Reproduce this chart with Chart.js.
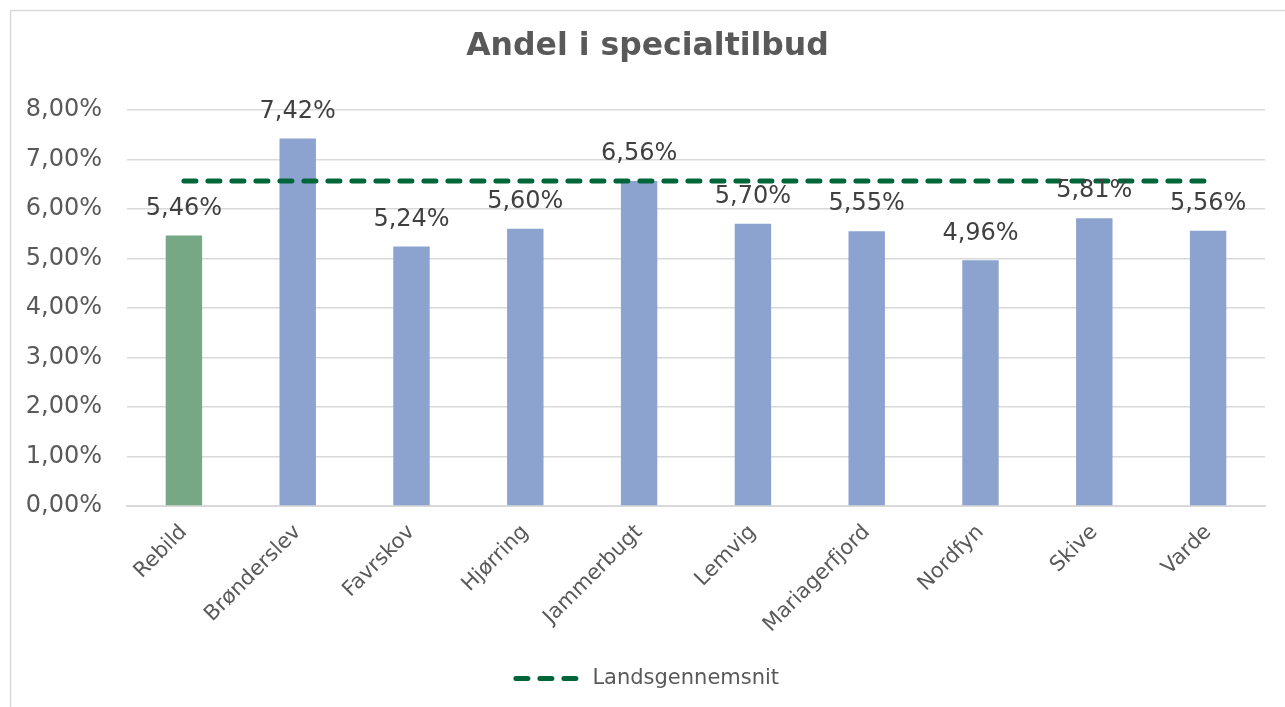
<!DOCTYPE html>
<html>
<head>
<meta charset="utf-8">
<title>Andel i specialtilbud</title>
<script src="https://cdn.jsdelivr.net/npm/chart.js@4/dist/chart.umd.min.js"></script>
<style>
    html, body { margin: 0; padding: 0; background: #fff; overflow: hidden; }
</style>
</head>
<body>
<canvas id="chart" width="1285" height="707"></canvas>
<script>
// Chart data
const municipalities = ['Rebild', 'Brønderslev', 'Favrskov', 'Hjørring', 'Jammerbugt',
    'Lemvig', 'Mariagerfjord', 'Nordfyn', 'Skive', 'Varde'];
const shareValues = [5.46, 7.42, 5.24, 5.60, 6.56, 5.70, 5.55, 4.96, 5.81, 5.56];
const nationalAverage = [6.56, 6.56, 6.56, 6.56, 6.56, 6.56, 6.56, 6.56, 6.56, 6.56];
const yTicks = [0, 1, 2, 3, 4, 5, 6, 7, 8];

const FONT = '"DejaVu Sans", Verdana, sans-serif';
const GREEN_BAR = '#76A886';
const BLUE_BAR = '#8BA3CE';
const AVG_LINE = '#00663A';
const AVG_DASH = [12, 12];

// Danish percent format, e.g. 5,46%
const pct = v => v.toFixed(2).replace('.', ',') + '%';

// Outer chart border (only top and left edges fall inside the window)
const frame = {
    id: 'frame',
    beforeDraw(chart) {
        const ctx = chart.ctx;
        ctx.save();
        ctx.strokeStyle = '#D9D9D9';
        ctx.lineWidth = 1.5;
        ctx.strokeRect(10.5, 10.5, 1300, 720);
        ctx.restore();
    }
};

// Value labels above the bars
const barLabels = {
    id: 'barLabels',
    afterDatasetsDraw(chart) {
        const ctx = chart.ctx;
        const meta = chart.getDatasetMeta(1);
        ctx.save();
        ctx.font = '24px ' + FONT;
        ctx.fillStyle = '#404040';
        ctx.textAlign = 'center';
        ctx.textBaseline = 'middle';
        meta.data.forEach((bar, i) => {
            ctx.fillText(pct(shareValues[i]), bar.x, bar.y - 27);
        });
        ctx.restore();
    }
};

new Chart(document.getElementById('chart'), {
    data: {
        labels: municipalities,
        datasets: [{
            type: 'line',
            label: 'Landsgennemsnit',
            data: nationalAverage,
            borderColor: AVG_LINE,
            backgroundColor: AVG_LINE,
            borderWidth: 5,
            borderDash: AVG_DASH,
            borderCapStyle: 'round',
            pointRadius: 0,
            fill: false,
            order: 0
        }, {
            type: 'bar',
            label: 'Andel',
            data: shareValues,
            backgroundColor: municipalities.map(m => m === 'Rebild' ? GREEN_BAR : BLUE_BAR),
            categoryPercentage: 1,
            barPercentage: 0.32,
            order: 1
        }]
    },
    options: {
        responsive: false,
        animation: false,
        layout: { padding: { left: 10, right: 0, top: 10, bottom: 8 } },
        plugins: {
            title: {
                display: true,
                text: 'Andel i specialtilbud',
                color: '#595959',
                font: { family: FONT, size: 31.5, weight: 'bold' },
                padding: { top: 18, bottom: 44 }
            },
            legend: {
                position: 'bottom',
                labels: {
                    // only the average line goes in the legend, drawn dashed
                    generateLabels: chart => {
                        const items = Chart.defaults.plugins.legend.labels.generateLabels(chart)
                            .filter(item => item.datasetIndex === 0);
                        items.forEach(item => {
                            item.lineDash = AVG_DASH;
                            item.lineCap = 'round';
                            item.lineWidth = 5;
                            item.strokeStyle = AVG_LINE;
                        });
                        return items;
                    },
                    usePointStyle: true,
                    pointStyle: 'line',
                    pointStyleWidth: 66,
                    color: '#595959',
                    font: { family: FONT, size: 21 },
                    padding: 10
                }
            },
            tooltip: { enabled: false }
        },
        scales: {
            x: {
                grid: { display: false },
                border: { color: '#D9D9D9', width: 2 },
                ticks: {
                    color: '#595959',
                    font: { family: FONT, size: 21 },
                    minRotation: 45,
                    maxRotation: 45,
                    padding: 6
                },
                afterFit: scale => { scale.height = 152; }
            },
            y: {
                min: 0,
                max: 8,
                afterBuildTicks: scale => { scale.ticks = yTicks.map(v => ({ value: v })); },
                grid: { color: '#D9D9D9', lineWidth: 1.5, drawTicks: false },
                border: { display: false },
                ticks: {
                    color: '#595959',
                    font: { family: FONT, size: 24 },
                    padding: 25,
                    callback: v => pct(v)
                },
                afterFit: scale => { scale.width = 117; }
            },
            // empty right axis, just keeps the plot 20px off the right edge
            yRight: {
                position: 'right',
                display: true,
                grid: { display: false },
                border: { display: false },
                ticks: { display: false },
                afterFit: scale => { scale.width = 20; }
            }
        }
    },
    plugins: [frame, barLabels]
});
</script>
</body>
</html>
